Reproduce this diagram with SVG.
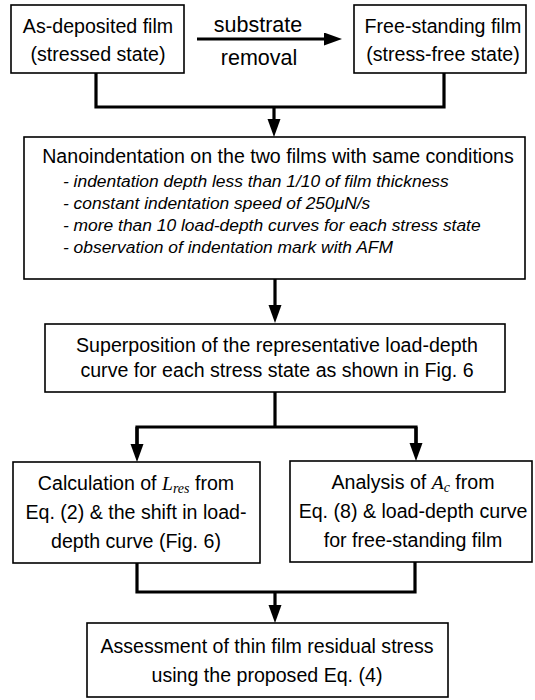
<svg xmlns="http://www.w3.org/2000/svg" width="535" height="700" viewBox="0 0 535 700">
<defs>
<style>
.box{fill:#fff;stroke:#000;stroke-width:1.6}
.t{font-family:"Liberation Sans",Arial,sans-serif;font-size:19.6px;fill:#000;text-anchor:middle}
.b{font-family:"Liberation Sans",Arial,sans-serif;font-size:17.4px;font-style:italic;fill:#000}
.lbl{font-family:"Liberation Sans",Arial,sans-serif;font-size:21.5px;fill:#000;text-anchor:middle}
.m{font-family:"Liberation Serif","Times New Roman",serif;font-style:italic}
.c{fill:none;stroke:#000;stroke-width:3.2;stroke-linejoin:miter}
.a{fill:none;stroke:#000;stroke-width:3.2;marker-end:url(#ah)}
</style>
<marker id="ah" markerUnits="userSpaceOnUse" markerWidth="19" markerHeight="14" refX="1" refY="6.5" orient="auto">
<path d="M0,0 L18,6.5 L0,13 Z" fill="#000"/>
</marker>
</defs>
<rect width="535" height="700" fill="#fff"/>

<g id="connectors">
<path class="a" d="M197,39 H325"/>
<path class="c" d="M96,73 V107 H444 V73"/>
<path class="a" d="M274,107 V120"/>
<path class="a" d="M275,279 V306"/>
<path class="c" d="M275,392 V427"/>
<path class="c" d="M137,444 V427 H416 V443"/>
<path class="a" d="M137,427 V445"/>
<path class="a" d="M416,427 V444"/>
<path class="c" d="M137,563 V592 H415 V562"/>
<path class="a" d="M275,592 V606"/>
</g>

<g id="label-substrate-removal">
<text class="lbl" x="258" y="32">substrate</text>
<text class="lbl" x="259" y="65">removal</text>
</g>

<g id="as-deposited">
<rect class="box" x="11" y="5" width="173" height="68"/>
<text class="t" x="98" y="33">As-deposited film</text>
<text class="t" x="98" y="61">(stressed state)</text>
</g>

<g id="free-standing">
<rect class="box" x="354" y="5" width="172" height="68"/>
<text class="t" x="443" y="33">Free-standing film</text>
<text class="t" x="443" y="61">(stress-free state)</text>
</g>

<g id="nanoindentation">
<rect class="box" x="24" y="137" width="501" height="142"/>
<text class="t" x="278" y="163">Nanoindentation on the two films with same conditions</text>
<text class="b" x="63" y="187">- indentation depth less than 1/10 of film thickness</text>
<text class="b" x="63" y="209">- constant indentation speed of 250μN/s</text>
<text class="b" x="63" y="231">- more than 10 load-depth curves for each stress state</text>
<text class="b" x="63" y="253">- observation of indentation mark with AFM</text>
</g>

<g id="superposition">
<rect class="box" x="45" y="324" width="460" height="68"/>
<text class="t" x="277" y="352">Superposition of the representative load-depth</text>
<text class="t" x="277" y="377">curve for each stress state as shown in Fig. 6</text>
</g>

<g id="calculation">
<rect class="box" x="13" y="462" width="247" height="101"/>
<text class="t" x="136" y="490">Calculation of <tspan class="m">L</tspan><tspan class="m" font-size="14" dy="3">res</tspan><tspan dy="-3">  from</tspan></text>
<text class="t" x="136" y="519">Eq. (2) &amp; the shift in load-</text>
<text class="t" x="136" y="548">depth curve (Fig. 6)</text>
</g>

<g id="analysis">
<rect class="box" x="290" y="461" width="242" height="101"/>
<text class="t" x="413" y="489">Analysis of <tspan class="m">A</tspan><tspan class="m" font-size="14" dy="3">c</tspan><tspan dy="-3">  from</tspan></text>
<text class="t" x="413" y="518">Eq. (8) &amp; load-depth curve</text>
<text class="t" x="413" y="547">for free-standing film</text>
</g>

<g id="assessment">
<rect class="box" x="87" y="623" width="361" height="74"/>
<text class="t" x="267" y="653">Assessment of thin film residual stress</text>
<text class="t" x="267" y="682">using the proposed Eq. (4)</text>
</g>
</svg>
